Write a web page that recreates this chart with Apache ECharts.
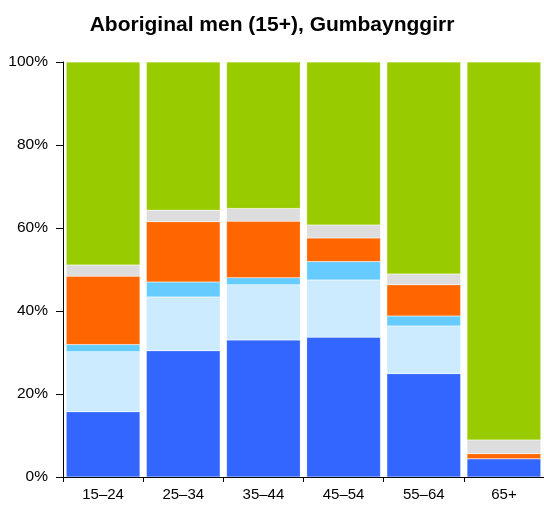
<!DOCTYPE html>
<html>
<head>
<meta charset="utf-8">
<script src="https://cdn.jsdelivr.net/npm/echarts@6/dist/echarts.min.js"></script>
<style>html,body{margin:0;padding:0;background:#fff;}#c{width:544px;height:506px;}</style>
</head>
<body>
<div id="c"></div>
<script>
var categories = ['15–24', '25–34', '35–44', '45–54', '55–64', '65+'];
var seriesNames = ['s1', 's2', 's3', 's4', 's5', 's6'];
var blueVals   = [15.7, 30.4, 33.0, 33.7, 24.9, 4.4];
var paleVals   = [14.5, 13.0, 13.3, 13.8, 11.5, 0];
var skyVals    = [1.7, 3.6, 1.7, 4.4, 2.4, 0];
var orangeVals = [16.5, 14.5, 13.6, 5.7, 7.5, 1.2];
var greyVals   = [2.7, 2.8, 3.1, 3.1, 2.6, 3.3];
var greenVals  = [48.9, 35.7, 35.3, 39.3, 51.1, 91.1];
var yTicks = [0, 20, 40, 60, 80, 100];

var colors = ['#3366FF', '#CCEBFF', '#66CCFF', '#FF6600', '#DDDDDD', '#99CC00'];
var allVals = [blueVals, paleVals, skyVals, orangeVals, greyVals, greenVals];
var FONT = 'Liberation Sans, Arial, Helvetica, sans-serif';

var series = allVals.map(function (vals, i) {
  return {
    name: seriesNames[i],
    type: 'bar',
    stack: 'total',
    data: vals,
    barCategoryGap: '8%',
    itemStyle: { color: colors[i], borderColor: 'rgba(255,255,255,0.35)', borderWidth: 0.5 },
    emphasis: { disabled: true },
    animation: false
  };
});

var chart = echarts.init(document.getElementById('c'), null, { renderer: 'canvas' });
chart.setOption({
  animation: false,
  backgroundColor: '#ffffff',
  title: {
    text: 'Aboriginal men (15+), Gumbaynggirr',
    left: 'center',
    top: 10,
    textStyle: { fontFamily: FONT, fontSize: 21, fontWeight: 'bold', color: '#000' }
  },
  grid: { left: 63, right: 0, top: 62, bottom: 29, containLabel: false },
  xAxis: {
    type: 'category',
    data: categories,
    axisLine: { lineStyle: { color: '#000', width: 1 } },
    axisTick: { show: true, length: 5, lineStyle: { color: '#000' } },
    axisLabel: { fontFamily: FONT, fontSize: 15, color: '#000', margin: 10 },
    splitLine: { show: false }
  },
  yAxis: {
    type: 'value',
    min: yTicks[0],
    max: yTicks[yTicks.length - 1],
    interval: 20,
    axisLine: { show: true, lineStyle: { color: '#000', width: 1 } },
    axisTick: { show: true, length: 7, lineStyle: { color: '#000' } },
    axisLabel: { fontFamily: FONT, fontSize: 15.5, color: '#000', margin: 15, formatter: '{value}%' },
    splitLine: { show: false }
  },
  series: series
});
</script>
</body>
</html>
